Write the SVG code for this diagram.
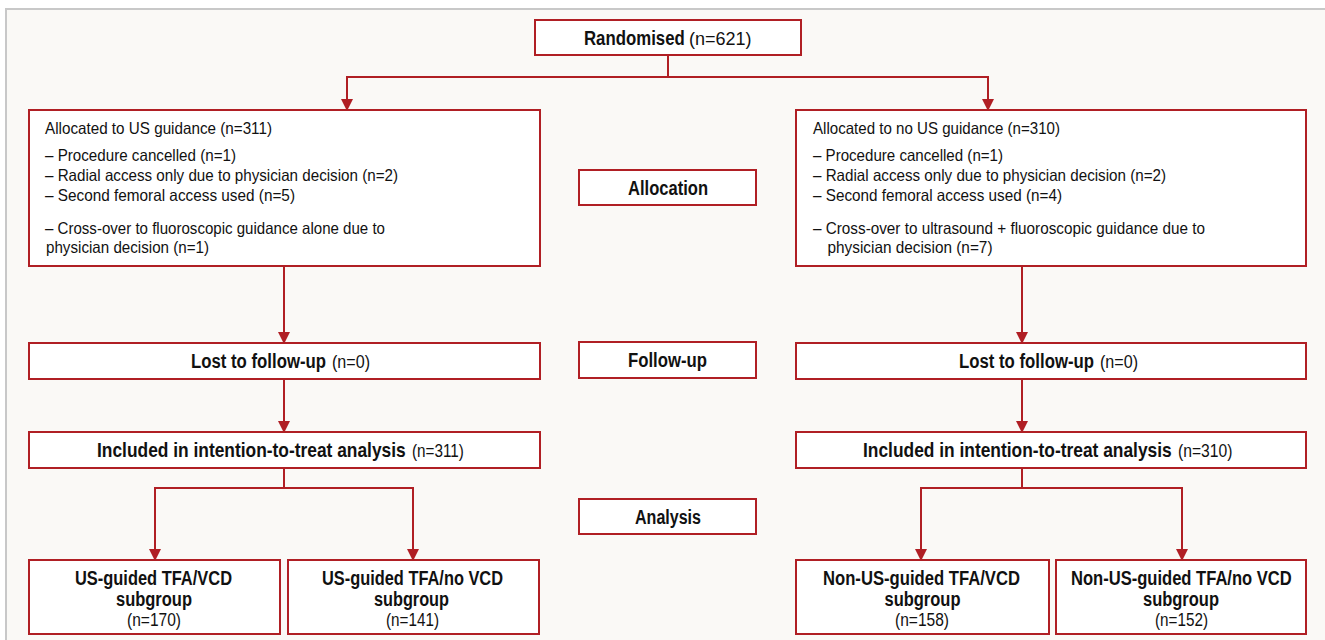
<svg xmlns="http://www.w3.org/2000/svg" width="1325" height="640" viewBox="0 0 1325 640">
<style>
text{font-family:"Liberation Sans",Arial,sans-serif;fill:#111;}
.box{fill:#fff;stroke:#b01f24;stroke-width:2;}
.con{fill:none;stroke:#b01f24;stroke-width:2;}
.b{font-weight:bold;font-size:20px;}
.r{font-weight:normal;font-size:17.5px;}
.t{font-size:16.5px;}
</style>
<defs>
<marker id="ah" markerUnits="userSpaceOnUse" markerWidth="12" markerHeight="12" refX="11" refY="6" orient="auto">
<path d="M0,0 L12,6 L0,12 z" fill="#b01f24"/>
</marker>
</defs>
<rect x="0" y="0" width="1325" height="640" fill="#ffffff"/>
<rect x="6" y="9" width="1330" height="640" fill="#faf9f6" stroke="#c8c8c8" stroke-width="2"/>
<g id="connectors">
<path class="con" d="M668,55 V77"/>
<path class="con" d="M668,77 H347 V110" marker-end="url(#ah)"/>
<path class="con" d="M668,77 H988 V110" marker-end="url(#ah)"/>
<path class="con" d="M284,266 V343" marker-end="url(#ah)"/>
<path class="con" d="M1022,266 V343" marker-end="url(#ah)"/>
<path class="con" d="M284,379 V432" marker-end="url(#ah)"/>
<path class="con" d="M1022,379 V432" marker-end="url(#ah)"/>
<path class="con" d="M284,468 V488 H155 V560" marker-end="url(#ah)"/>
<path class="con" d="M284,488 H413 V560" marker-end="url(#ah)"/>
<path class="con" d="M1022,468 V488 H921 V560" marker-end="url(#ah)"/>
<path class="con" d="M1022,488 H1182 V560" marker-end="url(#ah)"/>
</g>
<g id="randomised">
<rect class="box" x="535" y="20" width="266" height="35"/>
<text class="b" transform="translate(584,45) scale(0.84,1)">Randomised</text>
<text class="r" font-size="19" transform="translate(689,45) scale(1.03,1)">(n=621)</text>
</g>
<g id="alloc-us">
<rect class="box" x="29" y="110" width="511" height="156"/>
<text class="t" x="45" y="134" textLength="227" lengthAdjust="spacingAndGlyphs">Allocated to US guidance (n=311)</text>
<text class="t" x="45" y="161" textLength="191" lengthAdjust="spacingAndGlyphs">– Procedure cancelled (n=1)</text>
<text class="t" x="45" y="181" textLength="353" lengthAdjust="spacingAndGlyphs">– Radial access only due to physician decision (n=2)</text>
<text class="t" x="45" y="201" textLength="250" lengthAdjust="spacingAndGlyphs">– Second femoral access used (n=5)</text>
<text class="t" x="45" y="234" textLength="340" lengthAdjust="spacingAndGlyphs">– Cross-over to fluoroscopic guidance alone due to</text>
<text class="t" x="46" y="253" textLength="163" lengthAdjust="spacingAndGlyphs">physician decision (n=1)</text>
</g>
<g id="alloc-nous">
<rect class="box" x="796" y="110" width="510" height="156"/>
<text class="t" x="813" y="134" textLength="247" lengthAdjust="spacingAndGlyphs">Allocated to no US guidance (n=310)</text>
<text class="t" x="813" y="161" textLength="190" lengthAdjust="spacingAndGlyphs">– Procedure cancelled (n=1)</text>
<text class="t" x="813" y="181" textLength="353" lengthAdjust="spacingAndGlyphs">– Radial access only due to physician decision (n=2)</text>
<text class="t" x="813" y="201" textLength="249" lengthAdjust="spacingAndGlyphs">– Second femoral access used (n=4)</text>
<text class="t" x="813" y="234" textLength="392" lengthAdjust="spacingAndGlyphs">– Cross-over to ultrasound + fluoroscopic guidance due to</text>
<text class="t" x="827.5" y="253" textLength="165" lengthAdjust="spacingAndGlyphs">physician decision (n=7)</text>
</g>
<g id="allocation">
<rect class="box" x="579" y="170" width="177" height="35"/>
<text class="b" x="628" y="195" textLength="80" lengthAdjust="spacingAndGlyphs">Allocation</text>
</g>
<g id="followup">
<rect class="box" x="579" y="342" width="177" height="36"/>
<text class="b" x="628" y="367" textLength="79" lengthAdjust="spacingAndGlyphs">Follow-up</text>
</g>
<g id="analysis">
<rect class="box" x="579" y="499" width="177" height="35"/>
<text class="b" x="635" y="524" textLength="66" lengthAdjust="spacingAndGlyphs">Analysis</text>
</g>
<g id="lost-us">
<rect class="box" x="29" y="343" width="511" height="36"/>
<text class="b" transform="translate(191,368) scale(0.838,1)">Lost to follow-up</text>
<text class="r" transform="translate(332,368) scale(0.92,1)">(n=0)</text>
</g>
<g id="lost-nous">
<rect class="box" x="796" y="343" width="510" height="36"/>
<text class="b" transform="translate(959,368) scale(0.838,1)">Lost to follow-up</text>
<text class="r" transform="translate(1100,368) scale(0.92,1)">(n=0)</text>
</g>
<g id="itt-us">
<rect class="box" x="29" y="432" width="511" height="36"/>
<text class="b" transform="translate(97,457) scale(0.869,1)">Included in intention-to-treat analysis</text>
<text class="r" transform="translate(412,457) scale(0.872,1)">(n=311)</text>
</g>
<g id="itt-nous">
<rect class="box" x="796" y="432" width="510" height="36"/>
<text class="b" transform="translate(863,457) scale(0.869,1)">Included in intention-to-treat analysis</text>
<text class="r" transform="translate(1178,457) scale(0.895,1)">(n=310)</text>
</g>
<g id="sub-us-vcd">
<rect class="box" x="29" y="560" width="251" height="74"/>
<text class="b" x="75" y="585" font-size="20.5" textLength="157" lengthAdjust="spacingAndGlyphs">US-guided TFA/VCD</text>
<text class="b" x="116" y="606" font-size="20.5" textLength="76" lengthAdjust="spacingAndGlyphs">subgroup</text>
<text class="r" x="127" y="626" textLength="54" lengthAdjust="spacingAndGlyphs">(n=170)</text>
</g>
<g id="sub-us-novcd">
<rect class="box" x="288" y="560" width="251" height="74"/>
<text class="b" x="322" y="585" font-size="20.5" textLength="181" lengthAdjust="spacingAndGlyphs">US-guided TFA/no VCD</text>
<text class="b" x="374" y="606" font-size="20.5" textLength="75" lengthAdjust="spacingAndGlyphs">subgroup</text>
<text class="r" x="386" y="626" textLength="53" lengthAdjust="spacingAndGlyphs">(n=141)</text>
</g>
<g id="sub-nous-vcd">
<rect class="box" x="796" y="560" width="253" height="74"/>
<text class="b" x="823" y="585" font-size="20.5" textLength="197" lengthAdjust="spacingAndGlyphs">Non-US-guided TFA/VCD</text>
<text class="b" x="884.5" y="606" font-size="20.5" textLength="76" lengthAdjust="spacingAndGlyphs">subgroup</text>
<text class="r" x="895" y="626" textLength="54" lengthAdjust="spacingAndGlyphs">(n=158)</text>
</g>
<g id="sub-nous-novcd">
<rect class="box" x="1056" y="560" width="250" height="74"/>
<text class="b" font-size="20.5" transform="translate(1071,585) scale(0.828,1)">Non-US-guided TFA/no VCD</text>
<text class="b" x="1143" y="606" font-size="20.5" textLength="76" lengthAdjust="spacingAndGlyphs">subgroup</text>
<text class="r" x="1155" y="626" textLength="53" lengthAdjust="spacingAndGlyphs">(n=152)</text>
</g>
</svg>
